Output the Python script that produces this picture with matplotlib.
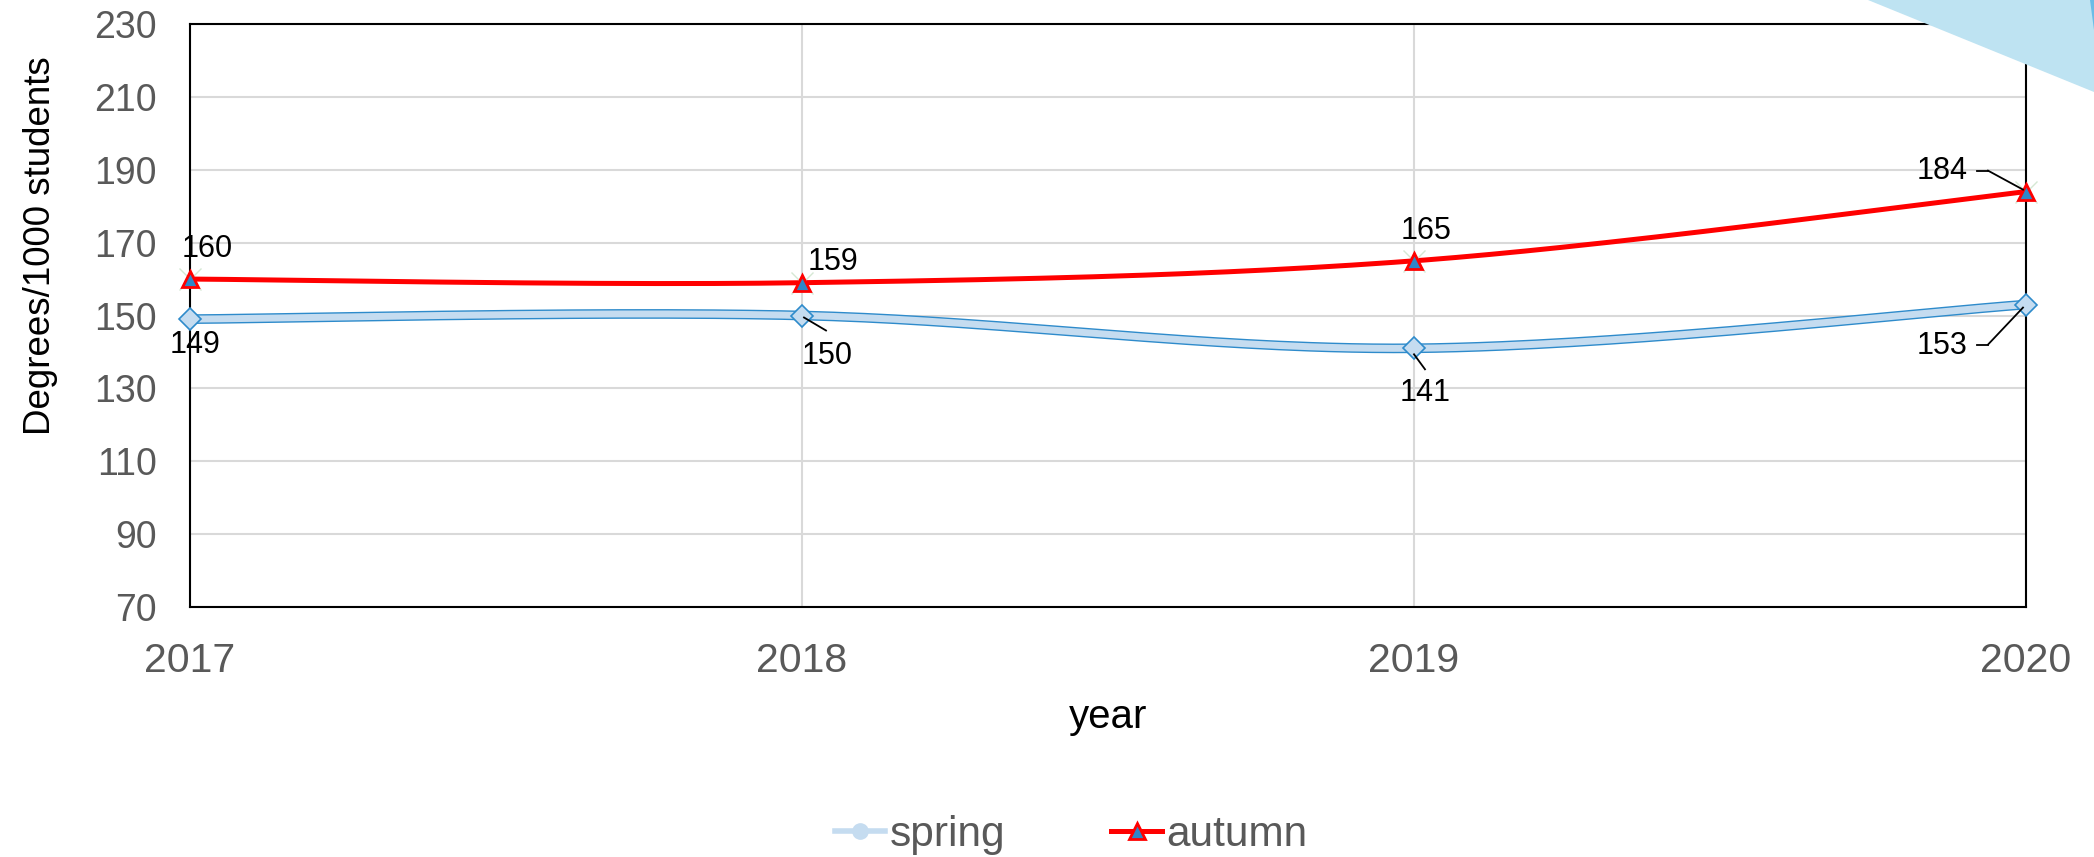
import matplotlib.pyplot as plt
import numpy as np
from matplotlib.lines import Line2D
from matplotlib.patches import Polygon

plt.rcParams['font.family'] = ['Liberation Sans', 'DejaVu Sans']

years = [2017, 2018, 2019, 2020]
spring = [149, 150, 141, 153]
autumn = [160, 159, 165, 184]
y_ticks = [70, 90, 110, 130, 150, 170, 190, 210, 230]

GRAY = '#595959'
SPRING_FILL = '#C5DCF0'
SPRING_EDGE = '#2E8BCB'
AUTUMN_FILL = '#2E86C8'


def smooth(x, y, n=60):
    # excel-like smoothed line: cubic bezier with catmull-rom control points
    x = np.asarray(x, float)
    y = np.asarray(y, float)
    px = np.concatenate([[x[0]], x, [x[-1]]])
    py = np.concatenate([[y[0]], y, [y[-1]]])
    xs, ys = [], []
    t = np.linspace(0, 1, n)
    for i in range(len(x) - 1):
        p0 = np.array([px[i + 1], py[i + 1]])
        p3 = np.array([px[i + 2], py[i + 2]])
        p1 = p0 + (p3 - np.array([px[i], py[i]])) / 6
        p2 = p3 - (np.array([px[i + 3], py[i + 3]]) - p0) / 6
        b = ((1 - t) ** 3)[:, None] * p0 + (3 * (1 - t) ** 2 * t)[:, None] * p1 \
            + (3 * (1 - t) * t ** 2)[:, None] * p2 + (t ** 3)[:, None] * p3
        xs.extend(b[:, 0])
        ys.extend(b[:, 1])
    return np.array(xs), np.array(ys)


fig = plt.figure(figsize=(20.94, 8.57), dpi=100)

# decorative triangles in the top right corner
fig.patches.append(Polygon([[1868 / 2094, 1], [1, 1], [1, 1 - 92 / 857]],
                           closed=True, transform=fig.transFigure,
                           facecolor='#BEE3F2', edgecolor='none', zorder=0))
fig.patches.append(Polygon([[2090 / 2094, 1], [1, 1], [1, 1 - 30 / 857]],
                           closed=True, transform=fig.transFigure,
                           facecolor='#6BBCE6', edgecolor='none', zorder=0))

ax = fig.add_axes([190 / 2094, 1 - 607 / 857, 1836 / 2094, 583 / 857])
ax.set_facecolor('none')

ax.set_xlim(2017, 2020)
ax.set_ylim(70, 230)
ax.set_yticks(y_ticks)
ax.set_xticks(years)
ax.set_xticklabels([str(y) for y in years])
ax.grid(True, color='#D9D9D9', lw=1.5)
ax.set_axisbelow(True)
ax.tick_params(axis='y', length=0, pad=24, labelsize=27, labelcolor=GRAY)
ax.tick_params(axis='x', length=0, pad=25, labelsize=29.5, labelcolor=GRAY)
for s in ax.spines.values():
    s.set_color('black')
    s.set_linewidth(1.5)

# spring: light band with blue outline
sx, sy = smooth(years, spring)
ax.plot(sx, sy, color=SPRING_EDGE, lw=7, solid_capstyle='butt', zorder=3, clip_on=False)
ax.plot(sx, sy, color=SPRING_FILL, lw=5, solid_capstyle='butt', zorder=3.1, clip_on=False)
ax.plot(years, spring, ls='none', marker='D', ms=11, mfc=SPRING_FILL, mec=SPRING_EDGE,
        mew=1.2, zorder=5, clip_on=False)

# autumn
ax_, ay = smooth(years, autumn)
ax.plot(ax_, ay, color='#FF0000', lw=3.6, zorder=4, clip_on=False)
ax.plot(years, autumn, ls='none', marker='x', ms=16, mec='#D5E8D4', mew=1, zorder=5,
        clip_on=False)
ax.plot(years, autumn, ls='none', marker='^', ms=12, mfc=AUTUMN_FILL, mec='#FF0000',
        mew=2, zorder=6, clip_on=False)

# data labels (offsets in pixels)
lab_kw = dict(textcoords='offset pixels', ha='center', va='center', fontsize=22,
              color='black', zorder=7)
autumn_off = [(17, 30), (31, 21), (12, 30), (-84, 21)]
spring_off = [(5, -26), (25, -40), (11, -45), (-84, -41)]
for x, v, o in zip(years, autumn, autumn_off):
    ax.annotate(str(v), (x, v), xytext=o, **lab_kw)
for x, v, o in zip(years, spring, spring_off):
    ax.annotate(str(v), (x, v), xytext=o, **lab_kw)


def seg(x, v, a, b):
    # leader line segment, given as pixel offsets from the data point
    pa = ax.transData.transform((x, v)) + np.array(a)
    pb = ax.transData.transform((x, v)) + np.array(b)
    fig.add_artist(Line2D([pa[0], pb[0]], [pa[1], pb[1]], color='black', lw=1.3,
                          transform=None, zorder=7))


seg(years[1], spring[1], (2, -2), (24, -15))
seg(years[2], spring[2], (0, -6), (11, -21))
seg(years[3], autumn[3], (-3, 2), (-38, 21))
seg(years[3], autumn[3], (-38, 21), (-49, 21))
seg(years[3], spring[3], (-3, -3), (-38, -40))
seg(years[3], spring[3], (-38, -40), (-49, -40))

fig.text(1108 / 2094, 1 - 728 / 857, 'year', ha='center', va='baseline',
         fontsize=29, color='black')
fig.text(41 / 2094, 1 - 246 / 857, 'Degrees/1000 students', rotation=90,
         ha='center', va='center', fontsize=26.5, color='black')

handles = [
    Line2D([], [], color=SPRING_FILL, lw=4, marker='o', ms=11, mfc=SPRING_FILL,
           mec=SPRING_FILL),
    Line2D([], [], color='#FF0000', lw=3.6, marker='^', ms=12, mfc=AUTUMN_FILL,
           mec='#FF0000', mew=2),
]
fig.legend(handles, ['spring', 'autumn'], loc='center', ncol=2,
           bbox_to_anchor=(1071 / 2094, 1 - 835 / 857), frameon=False,
           fontsize=30.5, labelcolor=GRAY, handlelength=1.2, handletextpad=0.1,
           columnspacing=2.5, borderpad=0)

fig.savefig('out.png', dpi=100)
